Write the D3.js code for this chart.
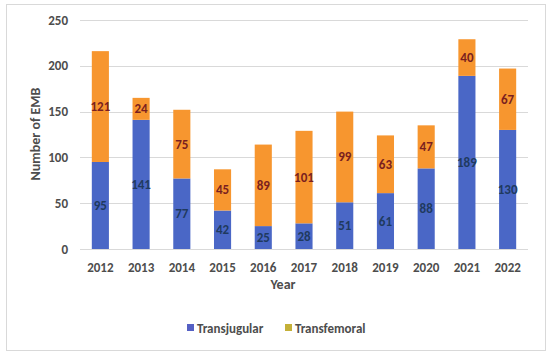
<!doctype html>
<html lang="en">
<head>
<meta charset="UTF-8" />
<title>EMB per year</title>
<script src="https://d3js.org/d3.v7.min.js"></script>
<style>
  body { margin: 0; background: #fff; }
  text { font-family: Calibri, Carlito, "Liberation Sans", "Open Sans", sans-serif; }
</style>
</head>
<body>
<div id="chart"></div>
<script>
// data
var years = ["2012","2013","2014","2015","2016","2017","2018","2019","2020","2021","2022"];
var transjugular = [95, 141, 77, 42, 25, 28, 51, 61, 88, 189, 130];
var transfemoral = [121, 24, 75, 45, 89, 101, 99, 63, 47, 40, 67];
var yTicks = [0, 50, 100, 150, 200, 250];
var seriesNames = ["Transjugular", "Transfemoral"];

var width = 550, height = 356;
var textColor = "#4d4d4d";
var svg = d3.select("#chart").append("svg")
    .attr("width", width)
    .attr("height", height);

// outer frame
svg.append("rect")
    .attr("x", 6.5).attr("y", 4.5)
    .attr("width", 539).attr("height", 346)
    .attr("fill", "#fff")
    .attr("stroke", "#d9d9d9");

var x = d3.scaleBand().domain(years).range([80, 528]).paddingInner(0.58).paddingOuter(0.29);
var y = d3.scaleLinear().domain([0, 250]).range([249, 20]);

// gridlines
svg.append("g").selectAll("line")
    .data(yTicks)
    .enter().append("line")
    .attr("x1", 80).attr("x2", 528)
    .attr("y1", d => Math.round(y(d)) + 0.5)
    .attr("y2", d => Math.round(y(d)) + 0.5)
    .attr("stroke", "#d9d9d9");

// y tick labels
svg.append("g").selectAll("text")
    .data(yTicks)
    .enter().append("text")
    .attr("x", 68)
    .attr("y", d => y(d))
    .attr("dy", "0.35em")
    .attr("text-anchor", "end")
    .attr("font-size", 13)
    .attr("font-weight", "bold")
    .attr("fill", textColor)
    .text(d => d);

var rows = years.map((yr, i) => ({ year: yr, Transjugular: transjugular[i], Transfemoral: transfemoral[i] }));
var stack = d3.stack().keys(seriesNames)(rows);
var colors = { Transjugular: "#4a67c6", Transfemoral: "#f7962f" };
var labelColors = { Transjugular: "#1f3a5f", Transfemoral: "#7a1f1f" };

var layers = svg.append("g").selectAll("g")
    .data(stack)
    .enter().append("g")
    .attr("fill", d => colors[d.key]);

layers.selectAll("rect")
    .data(d => d)
    .enter().append("rect")
    .attr("x", d => x(d.data.year))
    .attr("width", x.bandwidth())
    .attr("y", d => y(d[1]))
    .attr("height", d => y(d[0]) - y(d[1]));

// data labels
stack.forEach(function(layer) {
    svg.append("g").selectAll("text")
        .data(layer)
        .enter().append("text")
        .attr("x", d => x(d.data.year) + x.bandwidth() / 2)
        .attr("y", d => y((d[0] + d[1]) / 2))
        .attr("dy", "0.35em")
        .attr("text-anchor", "middle")
        .attr("font-size", 13)
        .attr("font-weight", "bold")
        .attr("fill", labelColors[layer.key])
        .text(d => d[1] - d[0]);
});

// x tick labels
svg.append("g").selectAll("text")
    .data(years)
    .enter().append("text")
    .attr("x", d => x(d) + x.bandwidth() / 2)
    .attr("y", 267)
    .attr("dy", "0.35em")
    .attr("text-anchor", "middle")
    .attr("font-size", 13)
    .attr("font-weight", "bold")
    .attr("fill", textColor)
    .text(d => d);

// axis titles
svg.append("text")
    .attr("x", 283).attr("y", 284)
    .attr("dy", "0.35em")
    .attr("text-anchor", "middle")
    .attr("font-size", 14)
    .attr("font-weight", "bold")
    .attr("fill", textColor)
    .text("Year");

svg.append("text")
    .attr("transform", "translate(35,134) rotate(-90)")
    .attr("dy", "0.35em")
    .attr("text-anchor", "middle")
    .attr("font-size", 14)
    .attr("font-weight", "bold")
    .attr("fill", textColor)
    .text("Number of  EMB");

// legend
var legend = [
    { name: "Transjugular", color: "#5560c4", x: 187 },
    { name: "Transfemoral", color: "#c4b038", x: 285 }
];
var lg = svg.append("g").selectAll("g")
    .data(legend)
    .enter().append("g")
    .attr("transform", d => "translate(" + d.x + ",328)");
lg.append("rect")
    .attr("x", 0).attr("y", -4)
    .attr("width", 7).attr("height", 7)
    .attr("fill", d => d.color);
lg.append("text")
    .attr("x", 10).attr("y", 0)
    .attr("dy", "0.35em")
    .attr("font-size", 13)
    .attr("font-weight", "bold")
    .attr("fill", textColor)
    .text(d => d.name);
</script>
</body>
</html>
